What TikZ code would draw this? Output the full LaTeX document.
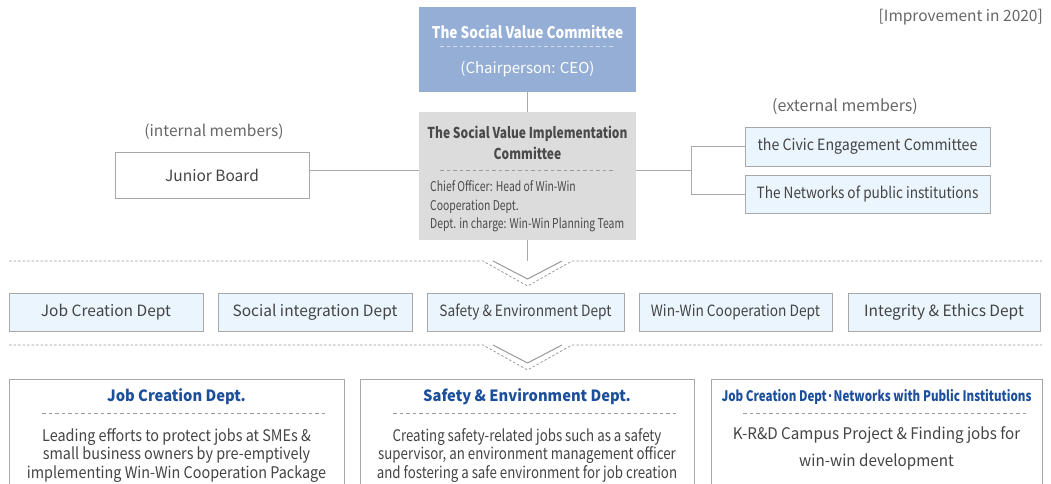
\documentclass[tikz,border=0pt]{standalone}
\usepackage{fontspec}
\setmainfont{Noto Sans CJK KR}
\newfontfamily\fsA[FakeStretch=0.80]{Noto Sans CJK KR}
\newfontfamily\fsAA[FakeStretch=0.77]{Noto Sans CJK KR}
\newfontfamily\fsB[FakeStretch=0.90]{Noto Sans CJK KR}
\newfontfamily\fsC[FakeStretch=0.83]{Noto Sans CJK KR}
\newfontfamily\fsD[FakeStretch=0.95]{Noto Sans CJK KR}
\newfontfamily\fsE[FakeStretch=0.885]{Noto Sans CJK KR}
\newfontfamily\fsF[FakeStretch=0.915]{Noto Sans CJK KR}
\newfontfamily\fsG[FakeStretch=0.88]{Noto Sans CJK KR}
\newfontfamily\fsH[FakeStretch=0.85]{Noto Sans CJK KR}
\definecolor{topfill}{HTML}{94AED6}
\definecolor{topdash}{HTML}{D0DCEF}
\definecolor{implfill}{HTML}{DCDCDC}
\definecolor{lblue}{HTML}{EAF5FD}
\definecolor{bordergray}{HTML}{A8A8A8}
\definecolor{linegray}{HTML}{AAAAAA}
\definecolor{dashgray}{HTML}{9A9A9A}
\definecolor{txt}{HTML}{444444}
\definecolor{txtlight}{HTML}{666666}
\definecolor{implt}{HTML}{4A4A4A}
\definecolor{tblue}{HTML}{1B4F9C}
\tikzset{
  boxbase/.style={draw=bordergray, line width=1pt, inner sep=0pt},
  lbox/.style={boxbase, fill=lblue, text=txt, font=\fontsize{15.5}{18}\selectfont},
  wbox/.style={boxbase, fill=white, text=txt, font=\fontsize{15.5}{18}\selectfont},
  conn/.style={draw=linegray, line width=1pt},
  sepdash/.style={draw=dashgray, line width=0.8pt, dash pattern=on 2.5pt off 2pt},
  titledash/.style={draw=dashgray, line width=0.8pt, dash pattern=on 3.5pt off 3pt},
  chev/.style={draw=dashgray, line width=1pt},
  plain/.style={inner sep=0pt},
}
\begin{document}
\begin{tikzpicture}[x=1pt,y=-1pt]
\path[use as bounding box] (0,0) rectangle (1051,483);
\clip (0,0) rectangle (1051,483);

% note
\node[plain, text=txtlight, font=\fontsize{15.5}{18}\selectfont, anchor=east] (note) at (1043,17) {[Improvement in 2020]};

% top box
\node[inner sep=0pt, fill=topfill, minimum width=217pt, minimum height=85pt] (top) at (527.5,49.5) {};
\node[plain, text=white, font=\fsH\bfseries\fontsize{16}{18}\selectfont] (toptitle) at (527.5,32) {The Social Value Committee};
\draw[draw=topdash, line width=0.8pt, dash pattern=on 3.5pt off 3pt] (440,46) -- (614,46);
\node[plain, text=white, font=\fontsize{15}{18}\selectfont] (topsub) at (527.5,69) {(Chairperson: CEO)};

% implementation box
\node[inner sep=0pt, fill=implfill, minimum width=217pt, minimum height=128pt] (impl) at (527.5,176) {};
\node[plain, text=implt, align=center, font=\fsA\bfseries\fontsize{15}{21}\selectfont] (impltitle) at (527.5,142.5) {The Social Value Implementation\\Committee};
\draw[titledash] (440,170) -- (615,170);
\node[plain, text=implt, align=left, anchor=west, font=\fsAA\fontsize{13.5}{18.5}\selectfont] (implbody) at (430,206.5) {Chief Officer: Head of Win-Win\\Cooperation Dept.\\Dept. in charge: Win-Win Planning Team};

% members
\node[plain, text=txtlight, font=\fontsize{15.5}{18}\selectfont] (intlab) at (214,132) {(internal members)};
\node[wbox, minimum width=194pt, minimum height=46pt] (junior) at (212,175) {Junior Board};
\node[plain, text=txtlight, font=\fontsize{16}{18}\selectfont] (extlab) at (845,107) {(external members)};
\node[lbox, minimum width=245pt, minimum height=39pt] (civic) at (867.5,146.5) {\fsF the Civic Engagement Committee};
\node[lbox, minimum width=245pt, minimum height=38pt] (net) at (867.5,194) {\fsG The Networks of public institutions};

% connectors
\coordinate (hl) at (0,170);
\coordinate (bx) at (691,170);
\coordinate (ch1) at (527.5,261);
\draw[conn] (top.south) -- (impl.north);
\draw[conn] (junior.east |- hl) -- (impl.west |- hl);
\draw[conn] (impl.east |- hl) -- (bx);
\draw[conn] (civic.west) -- (bx |- civic.west) -- (bx |- net.west) -- (net.west);
\draw[conn] (impl.south) -- (ch1);

% separator 1
\draw[sepdash] (9,261) -- (483,261) -- (527.5,286) -- (572,261) -- (1042,261);
\draw[chev] (493,261) -- (527.5,279) -- (562,261);

% departments
\node[lbox, minimum width=194pt, minimum height=38pt] (d1) at (106,312) {Job Creation Dept};
\node[lbox, minimum width=194pt, minimum height=38pt] (d2) at (315,312) {Social integration Dept};
\node[lbox, minimum width=197pt, minimum height=38pt] (d3) at (525.5,312) {\fsE Safety \& Environment Dept};
\node[lbox, minimum width=193pt, minimum height=38pt] (d4) at (735.5,312) {\fsE Win-Win Cooperation Dept};
\node[lbox, minimum width=192pt, minimum height=38pt] (d5) at (944,312) {Integrity \& Ethics Dept};

% separator 2
\draw[sepdash] (9,345) -- (483,345) -- (527.5,370) -- (572,345) -- (1042,345);
\draw[chev] (493,345) -- (527.5,363) -- (562,345);

% bottom boxes
\node[wbox, minimum width=335pt, minimum height=120pt, anchor=north] (b1) at (176.5,379) {};
\node[wbox, minimum width=334pt, minimum height=120pt, anchor=north] (b2) at (527,379) {};
\node[wbox, minimum width=331pt, minimum height=120pt, anchor=north] (b3) at (876.5,379) {};

\node[plain, text=tblue, font=\fsD\bfseries\fontsize{15.5}{18}\selectfont] (b1t) at (176.5,397) {Job Creation Dept.};
\draw[titledash] (42,413) -- (328,413);
\node[plain, text=txt, align=center, font=\fsB\fontsize{16}{18.5}\selectfont] (b1b) at (176.5,455.5) {Leading efforts to protect jobs at SMEs \&\\small business owners by pre-emptively\\implementing Win-Win Cooperation Package};

\node[plain, text=tblue, font=\fsD\bfseries\fontsize{15.5}{18}\selectfont] (b2t) at (527,397) {Safety \& Environment Dept.};
\draw[titledash] (393,413) -- (678,413);
\node[plain, text=txt, align=center, font=\fsC\fontsize{16}{18.5}\selectfont] (b2b) at (527,455.5) {Creating safety-related jobs such as a safety\\supervisor, an environment management officer\\and fostering a safe environment for job creation};

\node[plain, text=tblue, font=\fsA\bfseries\fontsize{14.5}{18}\selectfont] (b3t) at (876.5,397) {Job Creation Dept·Networks with Public Institutions};
\draw[titledash] (743,413) -- (1028,413);
\node[plain, text=txt, align=center, font=\fsD\fontsize{16}{27}\selectfont] (b3b) at (876.5,448) {K-R\&D Campus Project \& Finding jobs for\\win-win development};
\end{tikzpicture}
\end{document}
